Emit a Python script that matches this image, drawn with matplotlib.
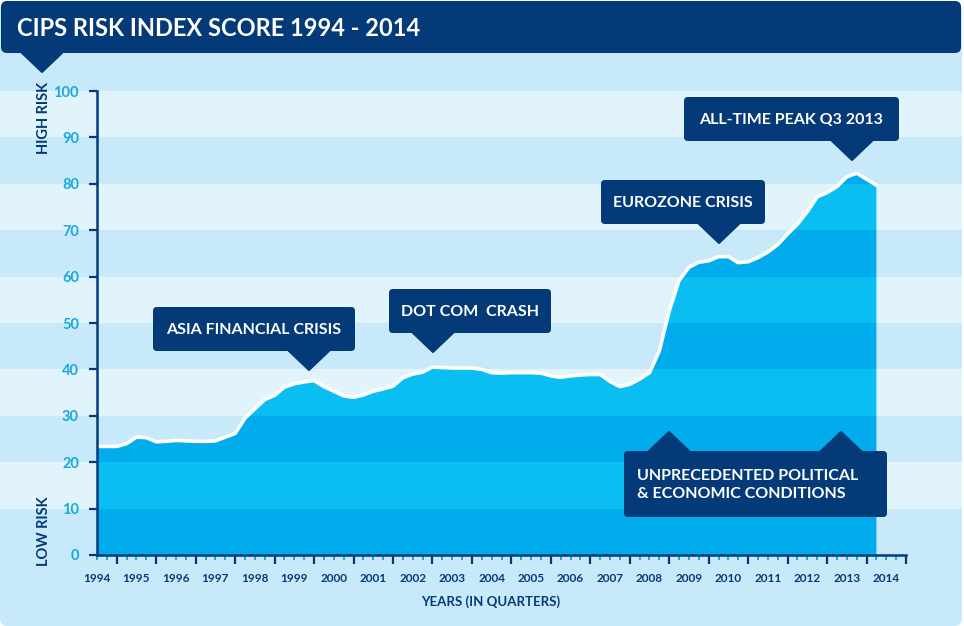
import numpy as np
import matplotlib
matplotlib.use("Agg")
import matplotlib.pyplot as plt
from matplotlib.patches import FancyBboxPatch, Polygon
from matplotlib.transforms import IdentityTransform

# CIPS risk index, quarterly, 1994 Q1 .. 2013 Q4
scores = [23.4, 23.4, 23.4, 24.0, 25.4, 25.3, 24.4, 24.5, 24.7, 24.6,
          24.5, 24.5, 24.6, 25.4, 26.2, 29.5, 31.5, 33.5, 34.4, 36.2,
          36.9, 37.3, 37.6, 36.3, 35.3, 34.3, 34.0, 34.5, 35.3, 35.8,
          36.4, 38.2, 39.0, 39.4, 40.5, 40.4, 40.3, 40.3, 40.3, 40.0,
          39.3, 39.2, 39.3, 39.3, 39.3, 39.2, 38.6, 38.3, 38.6, 38.8,
          38.9, 38.9, 37.4, 36.3, 36.8, 37.9, 39.3, 44.0, 52.6, 59.2,
          62.0, 63.1, 63.4, 64.3, 64.3, 63.0, 63.2, 64.1, 65.3, 66.9,
          69.2, 71.3, 74.0, 77.2, 78.1, 79.4, 81.5, 82.3, 81.0, 79.7]
years = list(range(1994, 2015))
yticks = [0, 10, 20, 30, 40, 50, 60, 70, 80, 90, 100]

NAVY = "#033a77"
LBLUE = "#1aa7e0"
BG_DARK = "#c8e9f9"
BG_LIGHT = "#e1f4fc"
AREA_DARK = "#00acec"
AREA_LIGHT = "#0bbef2"

plt.rcParams["font.family"] = ["Lato", "DejaVu Sans"]
plt.rcParams["font.weight"] = "bold"

W, H = 964, 626
fig = plt.figure(figsize=(W / 100, H / 100), dpi=100)
fig.patch.set_facecolor("white")

# main plot area in pixels
x0, x1, y0, y1 = 97, 906, 555, 91
ax_pos = [x0 / W, 1 - y0 / H, (x1 - x0) / W, (y0 - y1) / H]
b, h = ax_pos[1], ax_pos[3]

# background stripes behind everything, aligned with the value axis
bg = fig.add_axes([0, 0, 1, 1], zorder=0)
bg.set_xlim(0, 1)
bg.set_ylim(-b / h * 100, (1 - b) / h * 100)
bg.axis("off")
clip = FancyBboxPatch((0, 0), W - 2, H - 2, boxstyle="round,pad=0,rounding_size=8",
                      transform=IdentityTransform(), fc="none", ec="none")
spans = [(-100, 0, BG_DARK)] + [(v, v + 10, BG_DARK if (v // 10) % 2 == 0 else BG_LIGHT)
                                for v in yticks[:-1]] + [(100, 200, BG_DARK)]
for lo, hi, c in spans:
    r = bg.axhspan(lo, hi, color=c, lw=0)
    r.set_clip_path(clip)

ax = fig.add_axes(ax_pos, zorder=1)
ax.patch.set_alpha(0)
q = np.arange(len(scores))
vals = np.array(scores)
area = ax.fill_between(q, vals, 0, color="none", lw=0)
area_path = area.get_paths()[0]
for lo in yticks[:-1]:
    c = AREA_DARK if (lo // 10) % 2 == 0 else AREA_LIGHT
    r = ax.axhspan(lo, lo + 10, color=c, lw=0)
    r.set_clip_path(area_path, ax.transData)
ax.plot(q, vals, color="white", lw=2.6, solid_joinstyle="round", zorder=5)

ax.set_xlim(0, 82)
ax.set_ylim(0, 100)
for s in ["top", "right"]:
    ax.spines[s].set_visible(False)
for s in ["left", "bottom"]:
    ax.spines[s].set_color(NAVY)
    ax.spines[s].set_linewidth(1.8)
ax.spines["left"].set_zorder(6)

ax.set_yticks(yticks)
ax.tick_params(axis="y", length=6, width=1.6, color=NAVY, labelcolor=LBLUE,
               labelsize=10.5, pad=7)
ax.set_xticks(np.arange(2, 83, 4))
ax.set_xticks(np.arange(0, 83), minor=True)
ax.set_xticklabels([])
ax.tick_params(axis="x", which="major", length=6.5, width=1.6, color=NAVY)
ax.tick_params(axis="x", which="minor", length=3.5, width=1.4, color=LBLUE)
for t in ax.get_yticklabels():
    t.set_fontweight("bold")

for i, yr in enumerate(years):
    ax.text(i * 4, -5, str(yr), ha="center", va="center", fontsize=8.5,
            color=NAVY, fontweight="bold", clip_on=False)

# overlay in pixel coordinates for the title bar and call-outs
ov = fig.add_axes([0, 0, 1, 1], zorder=3)
ov.set_xlim(0, W)
ov.set_ylim(H, 0)
ov.axis("off")

ov.add_patch(FancyBboxPatch((1, 1), W - 4, 52, boxstyle="round,pad=0,rounding_size=6",
                            fc=NAVY, ec="none"))
ov.add_patch(Polygon([(21, 52), (63, 52), (42, 72)], closed=True, fc=NAVY, ec=NAVY,
                     lw=1.5, joinstyle="round"))
ov.text(17, 28, "CIPS RISK INDEX SCORE 1994 - 2014", color="white", fontsize=17,
        fontweight="bold", ha="left", va="center")

ov.text(44, 118, "HIGH RISK", rotation=90, color=NAVY, fontsize=10.5, ha="center", va="center")
ov.text(44, 531, "LOW RISK", rotation=90, color=NAVY, fontsize=10.5, ha="center", va="center")
ov.text(491, 602, "YEARS (IN QUARTERS)", color=NAVY, fontsize=9.5, ha="center", va="center")


def callout(left, top, right, bottom, text, apexes, up=False, align="center"):
    ov.add_patch(FancyBboxPatch((left, top), right - left, bottom - top,
                                boxstyle="round,pad=0,rounding_size=4", fc=NAVY, ec="none"))
    for ax_x, ax_y in apexes:
        base = top + 1 if up else bottom - 1
        ov.add_patch(Polygon([(ax_x - 21, base), (ax_x + 21, base), (ax_x, ax_y)],
                             closed=True, fc=NAVY, ec=NAVY, lw=1.5, joinstyle="round"))
    if align == "center":
        ov.text((left + right) / 2, (top + bottom) / 2 + 1, text, color="white",
                fontsize=11.5, ha="center", va="center")
    else:
        ov.text(left + 13, (top + bottom) / 2 + 1, text, color="white", fontsize=11.5,
                ha="left", va="center", linespacing=1.45)


callout(153, 307, 355, 351, "ASIA FINANCIAL CRISIS", [(309, 370)])
callout(389, 289, 551, 333, "DOT COM  CRASH", [(433, 352)])
callout(601, 180, 765, 224, "EUROZONE CRISIS", [(719, 243)])
callout(684, 97, 899, 141, "ALL-TIME PEAK Q3 2013", [(852, 160)])
callout(624, 451, 887, 517, "UNPRECEDENTED POLITICAL\n& ECONOMIC CONDITIONS",
        [(669, 432), (841, 432)], up=True, align="left")

fig.savefig("out.png", dpi=100)
